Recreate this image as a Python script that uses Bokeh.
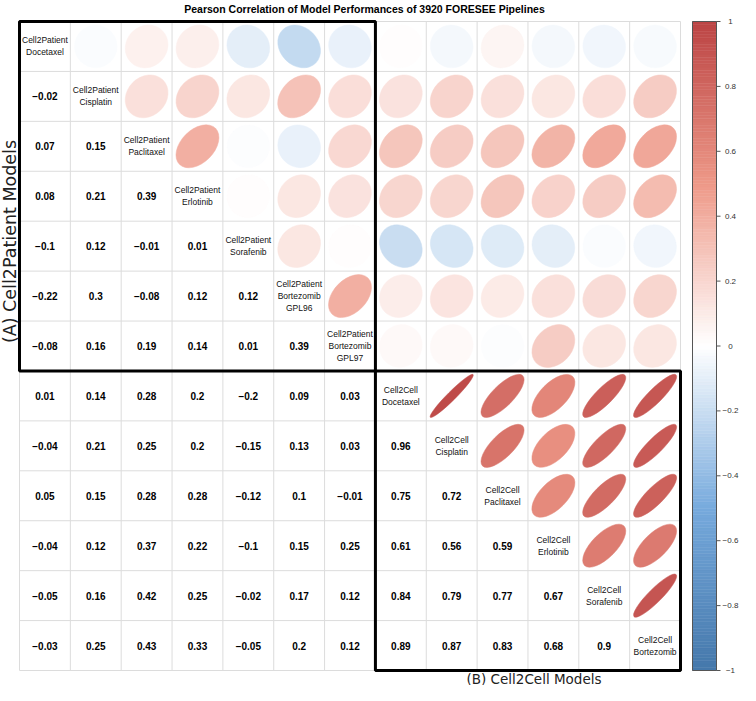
import math
from bokeh.plotting import figure
from bokeh.models import Range1d
from bokeh.core.properties import value
from bokeh.embed import file_html
from bokeh.resources import INLINE

# ---------------- data ----------------
labels = ["Cell2Patient\nDocetaxel", "Cell2Patient\nCisplatin", "Cell2Patient\nPaclitaxel",
          "Cell2Patient\nErlotinib", "Cell2Patient\nSorafenib", "Cell2Patient\nBortezomib\nGPL96",
          "Cell2Patient\nBortezomib\nGPL97", "Cell2Cell\nDocetaxel", "Cell2Cell\nCisplatin",
          "Cell2Cell\nPaclitaxel", "Cell2Cell\nErlotinib", "Cell2Cell\nSorafenib", "Cell2Cell\nBortezomib"]

lower = [
    [],
    [-0.02],
    [0.07, 0.15],
    [0.08, 0.21, 0.39],
    [-0.1, 0.12, -0.01, 0.01],
    [-0.22, 0.3, -0.08, 0.12, 0.12],
    [-0.08, 0.16, 0.19, 0.14, 0.01, 0.39],
    [0.01, 0.14, 0.28, 0.2, -0.2, 0.09, 0.03],
    [-0.04, 0.21, 0.25, 0.2, -0.15, 0.13, 0.03, 0.96],
    [0.05, 0.15, 0.28, 0.28, -0.12, 0.1, -0.01, 0.75, 0.72],
    [-0.04, 0.12, 0.37, 0.22, -0.1, 0.15, 0.25, 0.61, 0.56, 0.59],
    [-0.05, 0.16, 0.42, 0.25, -0.02, 0.17, 0.12, 0.84, 0.79, 0.77, 0.67],
    [-0.03, 0.25, 0.43, 0.33, -0.05, 0.2, 0.12, 0.89, 0.87, 0.83, 0.68, 0.9],
]

colorbar_ticks = [1, 0.8, 0.6, 0.4, 0.2, 0, -0.2, -0.4, -0.6, -0.8, -1]

title_text = "Pearson Correlation of Model Performances of 3920 FORESEE Pipelines"
ylabel_text = "(A) Cell2Patient Models"
xlabel_text = "(B) Cell2Cell Models"

palette_anchors = ["#4477AA", "#77AADD", "#FFFFFF", "#EE9988", "#BB4444"]

# ---------------- helpers ----------------
n = len(labels)
M = [[1.0] * n for _ in range(n)]
for i, row in enumerate(lower):
    for j, v in enumerate(row):
        M[i][j] = v
        M[j][i] = v


def hex2rgb(h):
    h = h.lstrip("#")
    return [int(h[k:k + 2], 16) for k in (0, 2, 4)]


anchor_rgb = [hex2rgb(c) for c in palette_anchors]


def corr_color(r):
    t = (max(-1.0, min(1.0, r)) + 1) / 2 * (len(anchor_rgb) - 1)
    k = min(int(math.floor(t)), len(anchor_rgb) - 2)
    f = t - k
    c = [round(anchor_rgb[k][q] + (anchor_rgb[k + 1][q] - anchor_rgb[k][q]) * f) for q in range(3)]
    return "#%02x%02x%02x" % tuple(c)


def fmt(v):
    s = f"{v:g}"
    return s.replace("-", "\u2212")


# ---------------- layout ----------------
W, H = 740, 685
gx0, gx1 = 19, 680        # grid left/right in canvas px
gy0, gy1 = 21, 670        # grid top/bottom in canvas px
sx = (gx1 - gx0) / n
sy = (gy1 - gy0) / n
x0 = -gx0 / sx
x1 = x0 + W / sx
y1 = n + gy0 / sy
y0 = y1 - H / sy


def px_x(fx):
    return x0 + fx / sx


def px_y(fy):
    return y1 - fy / sy


p = figure(width=W, height=H, x_range=Range1d(x0, x1), y_range=Range1d(y0, y1),
           output_backend="svg", toolbar_location=None, x_axis_type=None, y_axis_type=None,
           min_border=0, min_border_left=0, min_border_right=0, min_border_top=0, min_border_bottom=0)
p.outline_line_color = None
p.xgrid.visible = False
p.ygrid.visible = False
p.background_fill_color = "white"
p.border_fill_color = "white"

# grid lines
p.segment(x0=list(range(n + 1)), y0=[0] * (n + 1), x1=list(range(n + 1)), y1=[n] * (n + 1),
          line_color="#dcdcdc", line_width=1)
p.segment(x0=[0] * (n + 1), y0=list(range(n + 1)), x1=[n] * (n + 1), y1=list(range(n + 1)),
          line_color="#dcdcdc", line_width=1)

# ellipses (upper triangle)
ex, ey, ew, eh, ec = [], [], [], [], []
for i in range(n):
    for j in range(i + 1, n):
        r = M[i][j]
        a = math.acos(r)
        ex.append(j + 0.5)
        ey.append(n - i - 0.5)
        ew.append(2 * 0.85 * math.cos(a / 2) / math.sqrt(2))
        eh.append(2 * 0.85 * math.sin(a / 2) / math.sqrt(2))
        ec.append(corr_color(r))
p.ellipse(x=ex, y=ey, width=ew, height=eh, angle=math.pi / 4,
          fill_color=ec, line_color=ec, line_width=0.5)

# numbers (lower triangle)
tx, ty, tt = [], [], []
for i in range(n):
    for j in range(i):
        tx.append(j + 0.5)
        ty.append(n - i - 0.5)
        tt.append(fmt(M[i][j]))
p.text(x=tx, y=ty, text=tt, text_align="center", text_baseline="middle",
       text_font=value("Liberation Sans"), text_font_style="bold", text_font_size="10px",
       text_color="black")

# diagonal labels
p.text(x=[k + 0.5 for k in range(n)], y=[n - k - 0.5 for k in range(n)], text=labels,
       text_align="center", text_baseline="middle", text_font=value("Liberation Sans"),
       text_font_size="8.5px", text_color="#111111", text_line_height=1.2)

# thick blocks
p.quad(left=[0, 7], right=[7, n], bottom=[n - 7, 0], top=[n, n - 7],
       fill_color=None, line_color="black", line_width=3)

# colorbar
cb_l = px_x(692)
cb_r = px_x(716)
nb = 200
bl, bt, bc = [], [], []
for k in range(nb):
    v0 = -1 + 2 * k / nb
    v1 = -1 + 2 * (k + 1) / nb
    bl.append((v0 + 1) / 2 * n)
    bt.append((v1 + 1) / 2 * n)
    bc.append(corr_color((v0 + v1) / 2))
p.quad(left=cb_l, right=cb_r, bottom=bl, top=bt, fill_color=bc, line_color=bc, line_width=0.5)
p.quad(left=[cb_l], right=[cb_r], bottom=[0], top=[n], fill_color=None,
       line_color="#555555", line_width=1)
tick_y = [(v + 1) / 2 * n for v in colorbar_ticks]
p.segment(x0=[cb_r] * len(tick_y), y0=tick_y, x1=[px_x(720)] * len(tick_y), y1=tick_y,
          line_color="#555555", line_width=1)
p.text(x=[px_x(730)] * len(tick_y), y=tick_y, text=[fmt(v) for v in colorbar_ticks],
       text_align="center", text_baseline="middle", text_font=value("Liberation Sans"),
       text_font_size="8px", text_color="#333333")

# title and axis labels
p.text(x=[px_x(364)], y=[px_y(8)], text=[title_text], text_align="center",
       text_baseline="middle", text_font=value("Liberation Sans"), text_font_style="bold",
       text_font_size="10.5px", text_color="black")
p.text(x=[px_x(9.5)], y=[px_y(241)], text=[ylabel_text], angle=math.pi / 2,
       text_align="center", text_baseline="middle", text_font=value("DejaVu Sans"),
       text_font_size="17.5px", text_color="#222222")
p.text(x=[px_x(533.5)], y=[px_y(678)], text=[xlabel_text], text_align="center",
       text_baseline="middle", text_font=value("DejaVu Sans"),
       text_font_size="13.5px", text_color="#222222")

open("out.html", "w").write(file_html(p, INLINE))
